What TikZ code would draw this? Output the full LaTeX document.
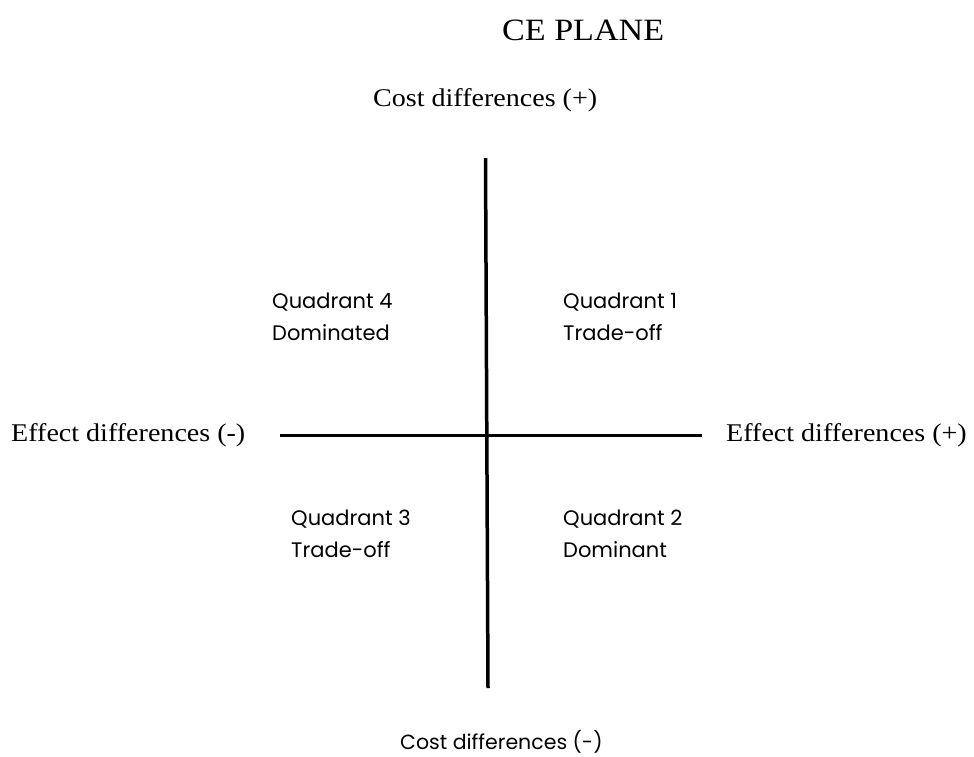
\documentclass[tikz,border=0pt]{standalone}
\usepackage{fontspec}
\setmainfont[FakeStretch=1.1]{Liberation Serif}
\newfontfamily\quadfont{Poppins}
\begin{document}
\begin{tikzpicture}[x=1pt,y=-1pt,
  axislabel/.style={font=\fontsize{25.5}{28}\selectfont, anchor=west, inner sep=0pt},
  quadlabel/.style={font=\quadfont\fontsize{21}{32}\selectfont, anchor=west, inner sep=0pt, align=left},
  axisline/.style={line width=3.5pt, black}]
\useasboundingbox (0,0) rectangle (974,756);
% title
\node[font=\fontsize{31}{34}\selectfont, anchor=west, inner sep=0pt] (title) at (502,30) {CE PLANE};
% axes
\coordinate (vtop) at (485.5,158);
\coordinate (vbot) at (488,688);
\coordinate (hleft) at (280,435);
\coordinate (hright) at (702,435);
\draw[axisline] (vtop) -- (vbot);
\draw[axisline, line width=3pt] (hleft) -- (hright);
% axis labels
\node[axislabel] (costplus) at (373,100) {Cost differences (+)};
\node[axislabel] (effminus) at (11,435) {Effect differences (-)};
\node[axislabel] (effplus) at (726,435) {Effect differences (+)};
\node[font=\quadfont\fontsize{20.5}{24}\selectfont, anchor=west, inner sep=0pt] (costminus) at (400,742) {Cost differences (-)};
% quadrant labels
\node[quadlabel] (q4) at (272,317) {Quadrant 4\\Dominated};
\node[quadlabel] (q1) at (563,317) {Quadrant 1\\Trade-off};
\node[quadlabel] (q3) at (291,534) {Quadrant 3\\Trade-off};
\node[quadlabel] (q2) at (563,534) {Quadrant 2\\Dominant};
\end{tikzpicture}
\end{document}
